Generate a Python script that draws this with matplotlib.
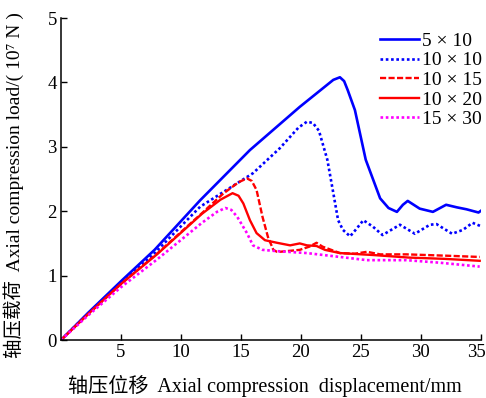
import matplotlib
matplotlib.use("Agg")
import matplotlib.pyplot as plt
import matplotlib.transforms as mtransforms

plt.rcParams['font.family'] = ['Liberation Serif', 'Noto Sans CJK SC', 'DejaVu Serif']

# ---- data ----
labels = ["5 × 10", "10 × 10", "10 × 15", "10 × 20", "15 × 30"]

disp_5x10 = [0, 2.25, 5.1, 7.8, 11.6, 15.75, 19.9, 22.7, 23.25, 23.6, 23.9, 24.5, 25.4,
             26.6, 27.3, 28.0, 28.5, 28.9, 29.9, 31.0, 32.1, 33.0, 33.8, 34.8, 35.1]
load_5x10 = [0, 0.42, 0.93, 1.40, 2.17, 2.95, 3.62, 4.04, 4.08, 4.02, 3.88, 3.57, 2.80,
             2.20, 2.05, 1.99, 2.10, 2.16, 2.04, 1.99, 2.10, 2.06, 2.03, 1.98, 2.02]

disp_10x10 = [0, 2.25, 5.1, 7.8, 11.6, 16.0, 18.25, 19.8, 20.5, 21.0, 21.5, 22.2, 22.7,
              23.1, 23.5, 24.1, 24.6, 25.2, 26.0, 26.8, 28.25, 29.5, 30.75, 31.3, 32.6,
              33.5, 34.3, 35.1]
load_10x10 = [0, 0.41, 0.90, 1.35, 2.07, 2.59, 2.98, 3.30, 3.39, 3.37, 3.25, 2.80, 2.28,
              1.86, 1.71, 1.61, 1.72, 1.86, 1.76, 1.63, 1.79, 1.65, 1.79, 1.80, 1.65,
              1.71, 1.82, 1.76]

disp_10x15 = [0, 2.25, 5, 8, 11.75, 13.5, 14.8, 15.5, 15.9, 16.3, 16.8, 17.25, 17.7, 18.0,
              18.25, 19.9, 20.7, 21.3, 21.8, 23.25, 24.5, 25.5, 26.6, 28.8, 32, 34.9]
load_10x15 = [0, 0.40, 0.87, 1.34, 1.97, 2.27, 2.45, 2.51, 2.47, 2.33, 1.91, 1.60, 1.40,
              1.37, 1.37, 1.40, 1.45, 1.51, 1.45, 1.35, 1.34, 1.37, 1.33, 1.33, 1.31, 1.29]

disp_10x20 = [0, 2.25, 5, 8, 11.75, 13.3, 14.3, 14.8, 15.2, 15.75, 16.3, 17.0, 18.0, 19.1,
              19.9, 20.5, 21.3, 22.0, 23.25, 26, 29, 32, 34.9]
load_10x20 = [0, 0.40, 0.87, 1.33, 1.96, 2.18, 2.28, 2.24, 2.12, 1.86, 1.66, 1.55, 1.51,
              1.47, 1.50, 1.47, 1.46, 1.40, 1.35, 1.32, 1.28, 1.26, 1.23]

disp_15x30 = [0, 2.25, 5, 8, 11.75, 13.0, 13.7, 14.2, 14.7, 15.5, 16.0, 16.8, 18.0, 20.5,
              23.25, 25.5, 28.8, 31.6, 34.9]
load_15x30 = [0, 0.38, 0.82, 1.25, 1.82, 1.99, 2.05, 2.02, 1.91, 1.66, 1.47, 1.40, 1.38,
              1.35, 1.29, 1.24, 1.24, 1.20, 1.14]

x_ticks = [5, 10, 15, 20, 25, 30, 35]
y_ticks = [0, 1, 2, 3, 4, 5]

fig = plt.figure(figsize=(4.86, 3.98), dpi=100)
ax = fig.add_axes([0.1255, 0.1457, 0.864, 0.809])

ax.plot(disp_5x10, load_5x10, color='#0000ff', lw=1.9, ls='-', label=labels[0])
ax.plot(disp_10x10, load_10x10, color='#0000ff', lw=1.9, ls=(0, (1, 1)), label=labels[1])
ax.plot(disp_10x15, load_10x15, color='#ff0000', lw=1.7, ls=(0, (2.6, 1.0)), label=labels[2])
ax.plot(disp_10x20, load_10x20, color='#ff0000', lw=1.7, ls='-', label=labels[3])
ax.plot(disp_15x30, load_15x30, color='#ff00ff', lw=1.9, ls=(0, (1, 1)), label=labels[4])

ax.set_xlim(0, 35)
ax.set_ylim(0, 5)
ax.set_xticks(x_ticks)
ax.set_yticks(y_ticks)
ax.tick_params(direction='in', length=4, width=1, labelsize=13.5, pad=3)
for s in ['top', 'right']:
    ax.spines[s].set_visible(False)
for s in ['left', 'bottom']:
    ax.spines[s].set_linewidth(1.1)

# shift last x tick label slightly left so it stays inside the figure
lbls = ax.get_xticklabels()
off = mtransforms.ScaledTranslation(-4 / 100, 0, fig.dpi_scale_trans)
lbls[-1].set_transform(lbls[-1].get_transform() + off)

ax.set_xlabel('轴压位移  Axial compression  displacement/mm', fontsize=14.5, labelpad=10)
ax.set_ylabel('轴压载荷  Axial compression load/( 10⁷ N )', fontsize=14, labelpad=10)
ax.yaxis.set_label_coords(-0.088, 0.48)
ax.xaxis.set_label_coords(0.486, -0.11)

leg = ax.legend(loc='upper right', bbox_to_anchor=(1.02, 0.98), frameon=False,
                fontsize=14, handlelength=2.0, handletextpad=0.15, labelspacing=0.1,
                borderaxespad=0)

fig.savefig('out.png', dpi=100)
